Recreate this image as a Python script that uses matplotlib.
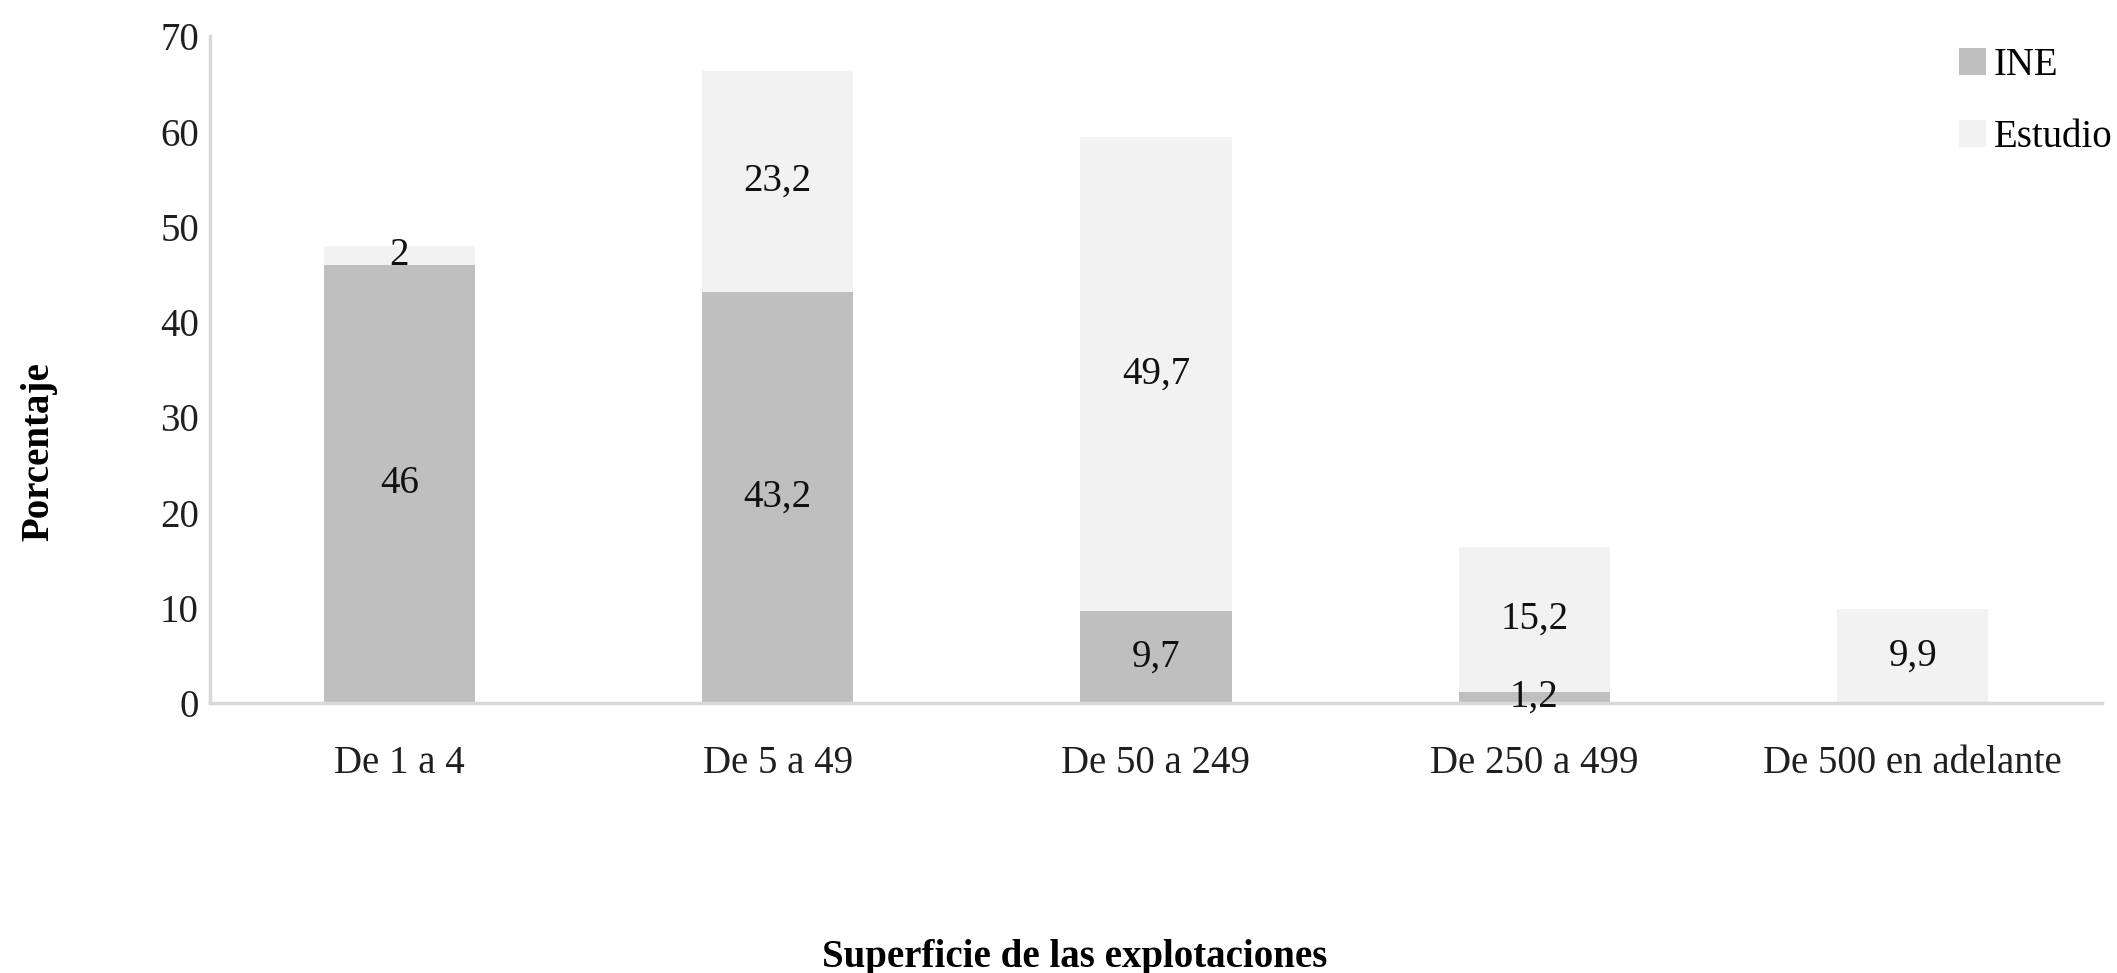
import matplotlib.pyplot as plt
import numpy as np

categorias = ['De 1 a 4', 'De 5 a 49', 'De 50 a 249', 'De 250 a 499', 'De 500 en adelante']
ine = [46, 43.2, 9.7, 1.2, 0]
estudio = [2, 23.2, 49.7, 15.2, 9.9]


def fmt(v):
    if v == 0:
        return ''
    if float(v).is_integer():
        return str(int(v))
    return str(v).replace('.', ',')


plt.rcParams['font.family'] = ['Liberation Serif', 'DejaVu Serif']

fig = plt.figure(figsize=(21.17, 9.73), dpi=100)
ax = fig.add_axes([0.0992, 0.2775, 0.8937, 0.685])

x = np.arange(len(categorias))
b1 = ax.bar(x, ine, width=0.4, color='#BFBFBF', label='INE')
b2 = ax.bar(x, estudio, width=0.4, bottom=ine, color='#F2F2F2', label='Estudio')

ax.bar_label(b1, labels=[fmt(v) for v in ine], label_type='center', fontsize=28, color='#111111')
ax.bar_label(b2, labels=[fmt(v) for v in estudio], label_type='center', fontsize=28, color='#111111')

ax.set_xlim(-0.5, 4.5)
ax.set_ylim(0, 70)
ax.set_yticks(range(0, 71, 10))
ax.set_xticks(x)
ax.set_xticklabels(categorias)
ax.tick_params(axis='both', length=0, labelsize=28, labelcolor='#1f1f1f')
ax.tick_params(axis='x', pad=30)
ax.tick_params(axis='y', pad=8)

for s in ['top', 'right']:
    ax.spines[s].set_visible(False)
for s in ['left', 'bottom']:
    ax.spines[s].set_color('#D9D9D9')
    ax.spines[s].set_linewidth(2.5)

ax.set_ylabel('Porcentaje', fontsize=28, fontweight='bold', labelpad=74)
ax.yaxis.label.set_y(0.377)
ax.set_xlabel('Superficie de las explotaciones', fontsize=28, fontweight='bold', labelpad=113)
ax.xaxis.label.set_x(0.457)

ax.legend(loc='upper right', bbox_to_anchor=(1.024, 1.036), frameon=False, fontsize=28,
          handlelength=0.7, handleheight=0.7, handletextpad=0.2, labelspacing=0.9)

fig.savefig('out.png', dpi=100)
